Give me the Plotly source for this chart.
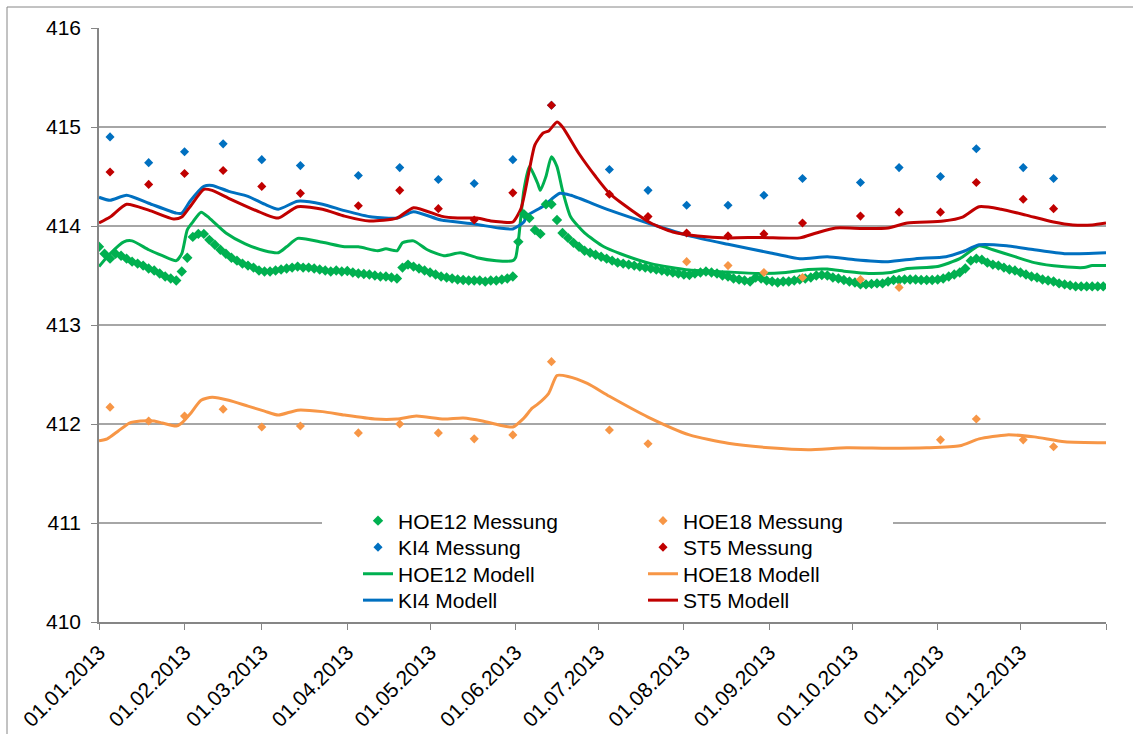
import pandas as pd
import plotly.graph_objects as go

START = pd.Timestamp("2013-01-01")


def to_dates(days):
    return [START + pd.Timedelta(days=d) for d in days]


# ---------------- data ----------------
month_ticks = pd.date_range("2013-01-01", "2013-12-01", freq="MS")
tick_labels = [d.strftime("%d.%m.%Y") for d in month_ticks]

# sparse measurements (same sampling dates)
meas_dates = ["2013-01-05", "2013-01-19", "2013-02-01", "2013-02-15", "2013-03-01", "2013-03-15",
              "2013-04-05", "2013-04-20", "2013-05-04", "2013-05-17", "2013-05-31", "2013-06-14",
              "2013-07-05", "2013-07-19", "2013-08-02", "2013-08-17", "2013-08-30", "2013-09-13",
              "2013-10-04", "2013-10-18", "2013-11-02", "2013-11-15", "2013-12-02", "2013-12-13"]
ki4_mess = [414.90, 414.64, 414.75, 414.83, 414.67, 414.61, 414.51, 414.59, 414.47, 414.43, 414.67, 415.22,
            414.57, 414.36, 414.21, 414.21, 414.31, 414.48, 414.44, 414.59, 414.50, 414.78, 414.59, 414.48]
st5_mess = [414.545, 414.42, 414.53, 414.56, 414.40, 414.33, 414.205, 414.36, 414.175, 414.06, 414.335, 415.22,
            414.32, 414.095, 413.93, 413.90, 413.92, 414.03, 414.10, 414.14, 414.14, 414.44, 414.27, 414.175]
hoe18_mess = [412.17, 412.03, 412.08, 412.15, 411.97, 411.98, 411.91, 412.00, 411.91, 411.85, 411.89, 412.63,
              411.94, 411.80, 413.64, 413.60, 413.53, 413.48, 413.46, 413.38, 411.84, 412.05, 411.84, 411.77]

# dense measurement HOE12 (every second day)
hoe12_mess_dates = pd.date_range("2013-01-01", "2013-12-31", freq="2D")
hoe12_mess = [
    413.79, 413.72, 413.67, 413.72, 413.70, 413.67, 413.64, 413.62, 413.60, 413.57,
    413.55, 413.52, 413.49, 413.47, 413.45, 413.54, 413.68, 413.89, 413.92, 413.92,
    413.86, 413.81, 413.76, 413.72, 413.68, 413.65, 413.62, 413.60, 413.58, 413.55,
    413.54, 413.54, 413.55, 413.56, 413.57, 413.58, 413.59, 413.58, 413.58, 413.57,
    413.56, 413.55, 413.54, 413.55, 413.54, 413.545, 413.53, 413.52, 413.515, 413.51,
    413.50, 413.49, 413.49, 413.48, 413.47, 413.58, 413.61, 413.59, 413.57, 413.55,
    413.53, 413.51, 413.49, 413.48, 413.47, 413.46, 413.455, 413.45, 413.45, 413.45,
    413.44, 413.45, 413.45, 413.46, 413.47, 413.49, 413.84, 414.12, 414.08, 413.96,
    413.92, 414.22, 414.22, 414.06, 413.93, 413.88, 413.83, 413.79, 413.75, 413.73,
    413.71, 413.69, 413.67, 413.65, 413.63, 413.62, 413.61, 413.60, 413.59, 413.58,
    413.57, 413.56, 413.55, 413.54, 413.53, 413.52, 413.51, 413.505, 413.52, 413.53,
    413.54, 413.53, 413.52, 413.50, 413.49, 413.47, 413.46, 413.45, 413.44, 413.48,
    413.47, 413.45, 413.44, 413.43, 413.44, 413.44, 413.45, 413.46, 413.47, 413.48,
    413.50, 413.505, 413.50, 413.48, 413.47, 413.455, 413.44, 413.43, 413.41, 413.41,
    413.415, 413.42, 413.42, 413.44, 413.455, 413.455, 413.46, 413.46, 413.46, 413.455,
    413.455, 413.455, 413.46, 413.47, 413.49, 413.51, 413.53, 413.57, 413.65, 413.67,
    413.66, 413.63, 413.61, 413.60, 413.58, 413.56, 413.55, 413.53, 413.51, 413.49,
    413.48, 413.46, 413.45, 413.44, 413.42, 413.41, 413.40, 413.39, 413.39, 413.39,
    413.39, 413.39, 413.39,
]

# model series (day of year, value)
ki4_mod_days = [0, 4, 10, 18, 28, 30, 33, 38, 41, 47, 54, 60, 65, 72, 81, 89, 99, 108, 114, 124, 136, 145,
                150, 154, 155, 161, 167, 171, 185, 200, 214, 228, 243, 254, 264, 274, 286, 296, 307, 313,
                319, 329, 339, 350, 365]
ki4_mod = [414.29, 414.26, 414.31, 414.23, 414.13, 414.13, 414.25, 414.40, 414.41, 414.35, 414.30, 414.22,
           414.17, 414.25, 414.22, 414.155, 414.09, 414.08, 414.145, 414.06, 414.02, 413.98, 413.97, 414.04,
           414.10, 414.20, 414.33, 414.31, 414.16, 414.02, 413.90, 413.815, 413.73, 413.67, 413.69, 413.66,
           413.64, 413.67, 413.69, 413.74, 413.81, 413.80, 413.76, 413.72, 413.73]

st5_mod_days = [0, 4, 10, 18, 27, 30, 33, 38, 41, 47, 60, 65, 72, 81, 89, 98, 108, 114, 124, 130, 137, 142,
                146, 150, 153, 156, 158, 161, 163, 166, 168, 174, 180, 185, 193, 200, 208, 217, 228, 240,
                254, 260, 267, 277, 286, 293, 306, 313, 319, 327, 336, 346, 353, 360, 365]
st5_mod = [414.03, 414.09, 414.22, 414.16, 414.07, 414.09, 414.195, 414.37, 414.36, 414.28, 414.12, 414.08,
           414.195, 414.17, 414.10, 414.05, 414.08, 414.185, 414.10, 414.08, 414.08, 414.05, 414.04, 414.04,
           414.18, 414.57, 414.82, 414.94, 414.96, 415.05, 415.00, 414.73, 414.50, 414.33, 414.16, 414.03,
           413.94, 413.90, 413.88, 413.885, 413.88, 413.93, 413.98, 413.975, 413.98, 414.03, 414.05, 414.09,
           414.195, 414.17, 414.11, 414.04, 414.01, 414.01, 414.03]

hoe12_mod_days = [0, 4, 9, 12, 18, 23, 28, 30, 32, 34, 37, 40, 46, 53, 60, 65, 68, 72, 81, 89, 94, 101, 104,
                  108, 110, 114, 119, 125, 131, 137, 144, 150, 151, 152, 154, 156, 159, 160, 162, 164, 166,
                  168, 171, 176, 183, 189, 200, 214, 228, 240, 249, 257, 264, 271, 279, 287, 293, 304, 312,
                  319, 324, 332, 339, 349, 357, 360, 365]
hoe12_mod = [413.59, 413.72, 413.84, 413.85, 413.76, 413.70, 413.65, 413.72, 413.96, 414.04, 414.14, 414.08,
             413.93, 413.82, 413.75, 413.73, 413.79, 413.875, 413.835, 413.79, 413.79, 413.75, 413.77, 413.75,
             413.83, 413.85, 413.76, 413.70, 413.73, 413.68, 413.65, 413.65, 413.68, 413.85, 414.36, 414.60,
             414.43, 414.36, 414.50, 414.70, 414.60, 414.36, 414.09, 413.93, 413.79, 413.72, 413.62, 413.555,
             413.535, 413.52, 413.53, 413.56, 413.565, 413.54, 413.52, 413.53, 413.57, 413.59, 413.67, 413.80,
             413.76, 413.69, 413.63, 413.59, 413.58, 413.60, 413.60]

hoe18_mod_days = [0, 3, 7, 11, 15, 20, 23, 28, 30, 33, 37, 41, 47, 54, 60, 65, 72, 81, 89, 100, 108, 115, 125,
                  132, 139, 145, 150, 154, 157, 159, 163, 166, 170, 177, 185, 199, 214, 228, 243, 257, 271,
                  286, 300, 312, 319, 329, 339, 350, 365]
hoe18_mod = [411.83, 411.85, 411.93, 412.01, 412.03, 412.03, 412.01, 411.98, 412.01, 412.10, 412.24, 412.27,
             412.24, 412.18, 412.13, 412.09, 412.14, 412.125, 412.09, 412.05, 412.05, 412.08, 412.05, 412.06,
             412.03, 411.99, 411.97, 412.06, 412.16, 412.20, 412.31, 412.49, 412.48, 412.41, 412.28, 412.07,
             411.89, 411.805, 411.76, 411.74, 411.76, 411.755, 411.76, 411.78, 411.85, 411.89, 411.87, 411.82,
             411.81]

GREEN = "#00B050"
BLUE = "#0070C0"
RED = "#C00000"
ORANGE = "#F79646"

# legend slot per series: (legend id, column, row)
LEG_POS = {
    "HOE12 Messung": ("legend", 0, 0), "HOE18 Messung": ("legend2", 1, 0),
    "KI4 Messung": ("legend3", 0, 1), "ST5 Messung": ("legend4", 1, 1),
    "HOE12 Modell": ("legend5", 0, 2), "HOE18 Modell": ("legend6", 1, 2),
    "KI4 Modell": ("legend7", 0, 3), "ST5 Modell": ("legend8", 1, 3),
}

fig = go.Figure()

line_specs = [
    ("HOE12 Modell", hoe12_mod_days, hoe12_mod, GREEN),
    ("HOE18 Modell", hoe18_mod_days, hoe18_mod, ORANGE),
    ("KI4 Modell", ki4_mod_days, ki4_mod, BLUE),
    ("ST5 Modell", st5_mod_days, st5_mod, RED),
]
for name, days, vals, col in line_specs:
    fig.add_trace(go.Scatter(x=to_dates(days), y=vals, mode="lines", name=name,
                             line=dict(color=col, width=3, shape="spline", smoothing=0.6),
                             legend=LEG_POS[name][0]))

fig.add_trace(go.Scatter(x=hoe12_mess_dates, y=hoe12_mess, mode="markers", name="HOE12 Messung",
                         marker=dict(symbol="diamond", size=8, color=GREEN), legend=LEG_POS["HOE12 Messung"][0]))
fig.add_trace(go.Scatter(x=meas_dates, y=hoe18_mess, mode="markers", name="HOE18 Messung",
                         marker=dict(symbol="diamond", size=7, color=ORANGE), legend=LEG_POS["HOE18 Messung"][0]))
fig.add_trace(go.Scatter(x=meas_dates, y=ki4_mess, mode="markers", name="KI4 Messung",
                         marker=dict(symbol="diamond", size=7, color=BLUE), legend=LEG_POS["KI4 Messung"][0]))
fig.add_trace(go.Scatter(x=meas_dates, y=st5_mess, mode="markers", name="ST5 Messung",
                         marker=dict(symbol="diamond", size=7, color=RED), legend=LEG_POS["ST5 Messung"][0]))

AXC = "#868686"
L, T, PW, PH = 99, 28, 1007, 594
col_x = [(358 - 99) / PW, (643 - 99) / PW]
row_y = [(622 - r) / PH for r in (521, 547.5, 574, 600.5)]

legend_layout = {}
for name, (lid, c, r) in LEG_POS.items():
    legend_layout[lid] = dict(x=col_x[c], y=row_y[r], xanchor="left", yanchor="middle",
                              bgcolor="rgba(0,0,0,0)", borderwidth=0, font=dict(size=21),
                              tracegroupgap=0)

fig.update_layout(
    width=1133, height=734,
    margin=dict(l=L, r=1133 - L - PW, t=T, b=734 - T - PH, autoexpand=False),
    paper_bgcolor="white", plot_bgcolor="white",
    font=dict(family="Liberation Sans, Arial, sans-serif", size=21, color="#000000"),
    showlegend=True,
    xaxis=dict(type="date", range=["2013-01-01", "2014-01-01"], tickvals=list(month_ticks),
               ticktext=tick_labels, tickangle=-45, ticks="outside", ticklen=6, tickcolor=AXC,
               showline=True, linecolor=AXC, linewidth=1.5, showgrid=False, zeroline=False,
               automargin=False, ticklabelstandoff=2,
               minor=dict(ticks="outside", ticklen=6, tickcolor=AXC, dtick="M1", tick0="2013-01-01",
                          showgrid=False)),
    yaxis=dict(range=[410, 416], dtick=1, tick0=410, tickformat="d", ticks="outside", ticklen=6,
               tickcolor=AXC, showline=True, linecolor=AXC, linewidth=1.5, showgrid=True,
               gridcolor="#A6A6A6", gridwidth=1.5, zeroline=False, ticklabelstandoff=6,
               automargin=False),
    shapes=[
        dict(type="rect", xref="paper", yref="paper", x0=(322 - L) / PW, x1=(893 - L) / PW,
             y0=(622 - 612) / PH, y1=(622 - 506) / PH, fillcolor="white", line=dict(width=0),
             layer="above"),
        dict(type="rect", xref="paper", yref="paper", x0=(7 - L) / PW, x1=(1140 - L) / PW,
             y0=(622 - 760) / PH, y1=(622 - 7) / PH, fillcolor="rgba(0,0,0,0)",
             line=dict(color=AXC, width=1), layer="below"),
    ],
    **legend_layout,
)

fig.write_html("out.html", config={"displayModeBar": False},
               post_script="document.body.style.margin='0px';document.body.style.overflow='hidden';")
